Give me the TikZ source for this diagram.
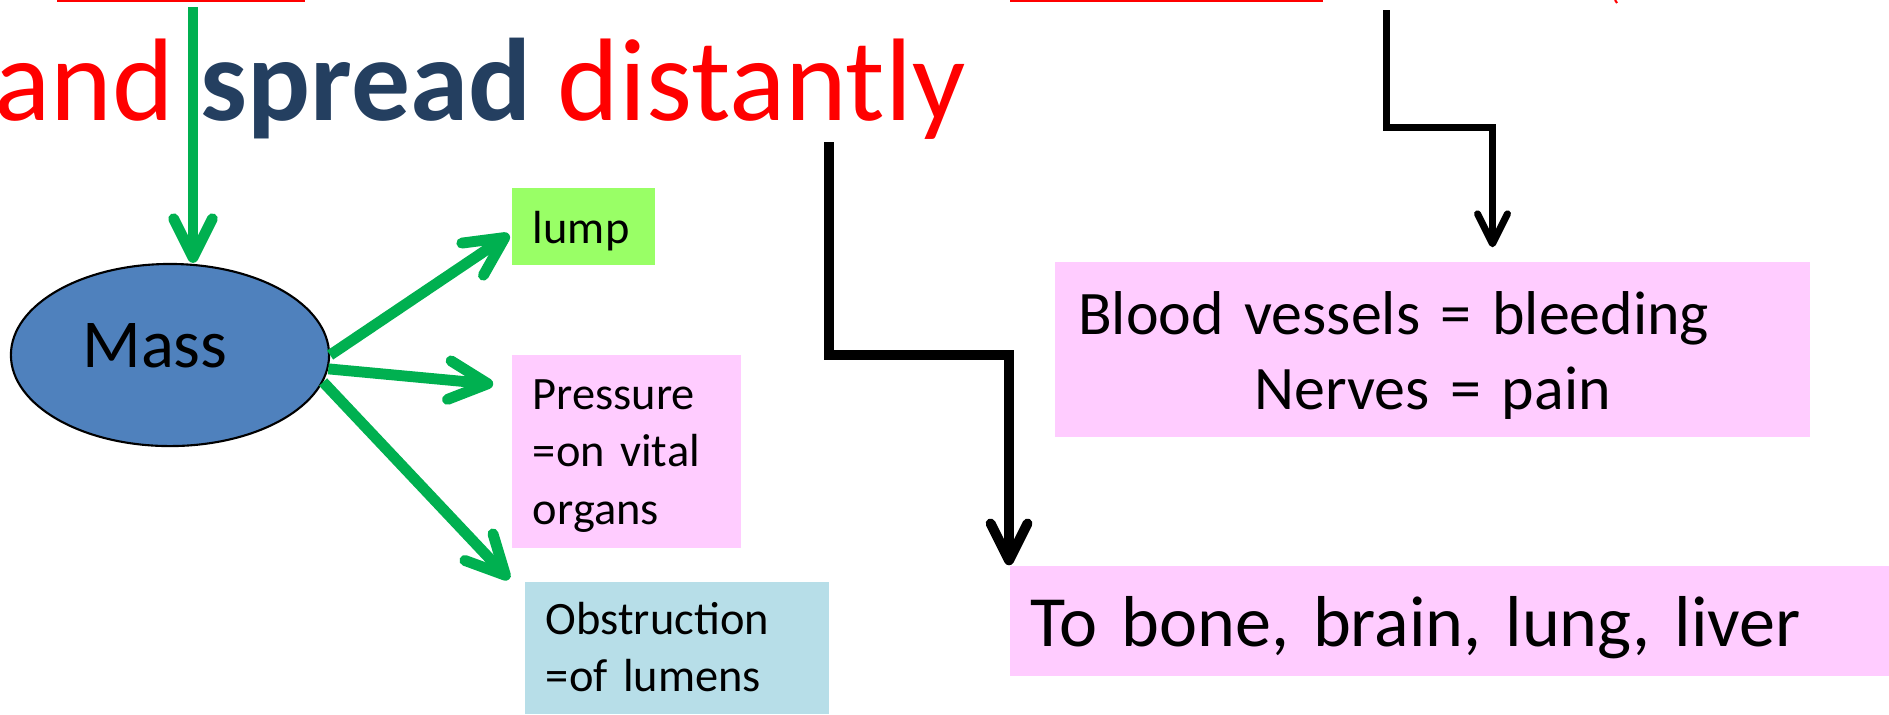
\documentclass[tikz,border=0pt]{standalone}
\usepackage{fontspec}
\setmainfont{Carlito}
\usetikzlibrary{arrows.meta,shapes.geometric,calc}
\definecolor{headred}{HTML}{FF0000}
\definecolor{spreadblue}{HTML}{243F60}
\definecolor{arrowgreen}{HTML}{00B050}
\definecolor{massblue}{HTML}{4F81BD}
\definecolor{lumpgreen}{HTML}{99FF66}
\definecolor{notepink}{HTML}{FFCCFF}
\definecolor{lumenblue}{HTML}{B7DEE8}
\begin{document}
\begin{tikzpicture}[x=0.01cm, y=-0.01cm,
  greenarrow/.style={arrowgreen, line width=3.1pt, -{Straight Barb[length=11pt,width=11pt,round]}},
  blackarrow/.style={black, line width=2.8pt, -{Straight Barb[length=10.5pt,width=10.5pt,round]}},
  thinarrow/.style={black, line width=2pt, -{Straight Barb[length=8.5pt,width=8.5pt,round]}},
  smallbox/.style={inner xsep=0.21cm, inner ysep=0pt, align=left,
    font=\fontsize{13.2}{16.4}\selectfont},
  bigbox/.style={fill=notepink, inner xsep=0.21cm, inner ysep=0pt}]
  \useasboundingbox (0,0) rectangle (1889,714);
  % underlines cut off at the top
  \draw[headred, line width=1.2pt] (57,0) -- (305,0);
  \draw[headred, line width=1.2pt] (1010,0) -- (1323,0);
  \draw[headred, line width=0.6pt] (1615,0) -- (1617,3);
  \node[anchor=base west, inner sep=0pt, font=\fontsize{33.4}{40}\selectfont] (title) at (-6,120)
    {\color{headred}and \color{spreadblue}\bfseries spread \mdseries\color{headred}distantly};
  \node[ellipse, draw, line width=0.6pt, fill=massblue, minimum width=3.18cm, minimum height=1.82cm,
    text depth=0.2cm, font=\fontsize{19.5}{24}\selectfont] (mass) at (170,355) {Mass\hspace*{0.3cm}};
  \node[smallbox, fill=lumpgreen, text width=1.01cm, minimum height=0.77cm,
    text height=0.34cm, text depth=0pt] (lump) at (583.5,226.5) {lump};
  \node[smallbox, fill=notepink, text width=1.87cm, minimum height=1.93cm,
    text height=0.30cm, text depth=1.15cm] (pressure) at (626.5,451.5)
    {Pressure\\=on vital\\organs};
  \node[smallbox, fill=lumenblue, text width=2.62cm, minimum height=1.32cm,
    text height=0.29cm, text depth=0.57cm] (lumens) at (677,648)
    {Obstruction\\=of lumens};
  \node[bigbox, text width=7.13cm, minimum height=1.75cm, align=center,
    text height=0.45cm, text depth=0.76cm,
    font=\fontsize{17.6}{21.6}\selectfont] (vessels) at (1432.5,349.5)
    {\makebox[7.08cm][l]{Blood vessels = bleeding}\\Nerves = pain};
  \node[bigbox, text width=8.37cm, minimum height=1.10cm, align=left,
    text height=0.5cm, text depth=0pt,
    font=\fontsize{20.5}{25}\selectfont] (organs) at (1449.5,621) {To bone, brain, lung, liver};
  % connectors
  \coordinate (massin) at (193,7);
  \coordinate (distout) at (829,142);
  \coordinate (topout) at (1386,10);
  \draw[greenarrow] (massin) -- (massin |- mass.north);
  \draw[greenarrow] (mass.east) -- ($(lump.west)+(-2,8)$);
  \draw[greenarrow] (mass.-5) -- ($(pressure.north west)+(-18,30)$);
  \draw[greenarrow] (mass.-10) -- ($(lumens.north west)+(-15,-2)$);
  \draw[blackarrow] (distout) -- ++(0,213) -| (organs.north west);
  \draw[thinarrow] (topout) -- ++(0,117) -| ($(vessels.north)+(60,-14)$);
\end{tikzpicture}
\end{document}
